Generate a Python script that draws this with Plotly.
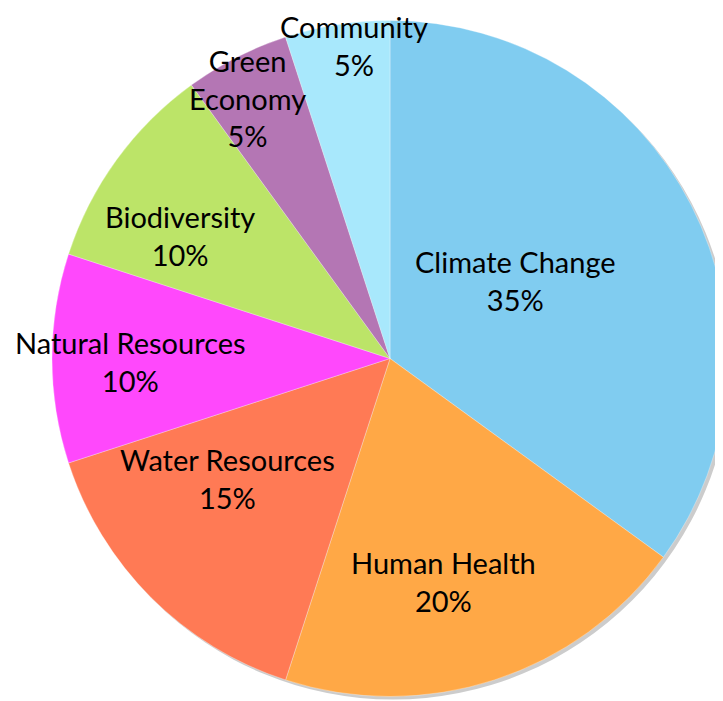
import plotly.graph_objects as go

categories = ["Climate Change", "Human Health", "Water Resources", "Natural Resources",
              "Biodiversity", "Green Economy", "Community"]
values = [35, 20, 15, 10, 10, 5, 5]
colors = ["#80ccf0", "#ffa846", "#ff7a55", "#ff48fc", "#bce468", "#b476b4", "#a8e8fc"]
label_lines = [["Climate Change"], ["Human Health"], ["Water Resources"], ["Natural Resources"],
               ["Biodiversity"], ["Green", "Economy"], ["Community"]]
# label block centres in page pixels (x, y from top)
label_pos = [(516, 280.5), (443, 581), (228, 478), (130, 361.5), (180, 235.5), (247, 98), (354, 37.5)]

W, H = 723, 701
OFF = 8  # page body margin
cx, cy, r = 390 - OFF, 358.5 - OFF, 338

def dom(dx=0, dy=0):
    x0 = max(0.0, (cx - r + dx) / W)
    x1 = min(1.0, (cx + r + dx) / W)
    return dict(x=[x0, x1], y=[(H - cy - r - dy) / H, (H - cy + r - dy) / H])

fig = go.Figure()
fig.add_trace(go.Pie(values=[1], marker=dict(colors=["rgba(0,0,0,0.2)"], line=dict(width=0)),
                     textinfo="none", hoverinfo="skip", showlegend=False, sort=False,
                     domain=dom(3, 3)))
fig.add_trace(go.Pie(labels=categories, values=values, sort=False, direction="clockwise",
                     rotation=0, textinfo="none", showlegend=False,
                     marker=dict(colors=colors, line=dict(color="rgba(255,255,255,0.3)", width=1)),
                     domain=dom()))

for cat, v, lines, (px, py) in zip(categories, values, label_lines, label_pos):
    txt = "<br>".join(lines + [f"{v}%"])
    yy = 1 - (py - OFF) / H
    anchor = "middle"
    n = len(lines) + 1
    half = n * 29 * 1.3 / 2 + 1
    if (py - OFF) - half < 0:  # keep the whole text box inside the figure
        yy, anchor = 1.0, "top"
    fig.add_annotation(x=(px - OFF) / W, y=yy, xref="paper", yref="paper",
                       text=txt, showarrow=False, xanchor="center", yanchor=anchor,
                       borderpad=0,
                       font=dict(family="Lato", size=29, color="black"))

fig.update_layout(width=W, height=H, margin=dict(l=0, r=0, t=0, b=0),
                  paper_bgcolor="white", plot_bgcolor="white")
fig.write_html("out.html")
